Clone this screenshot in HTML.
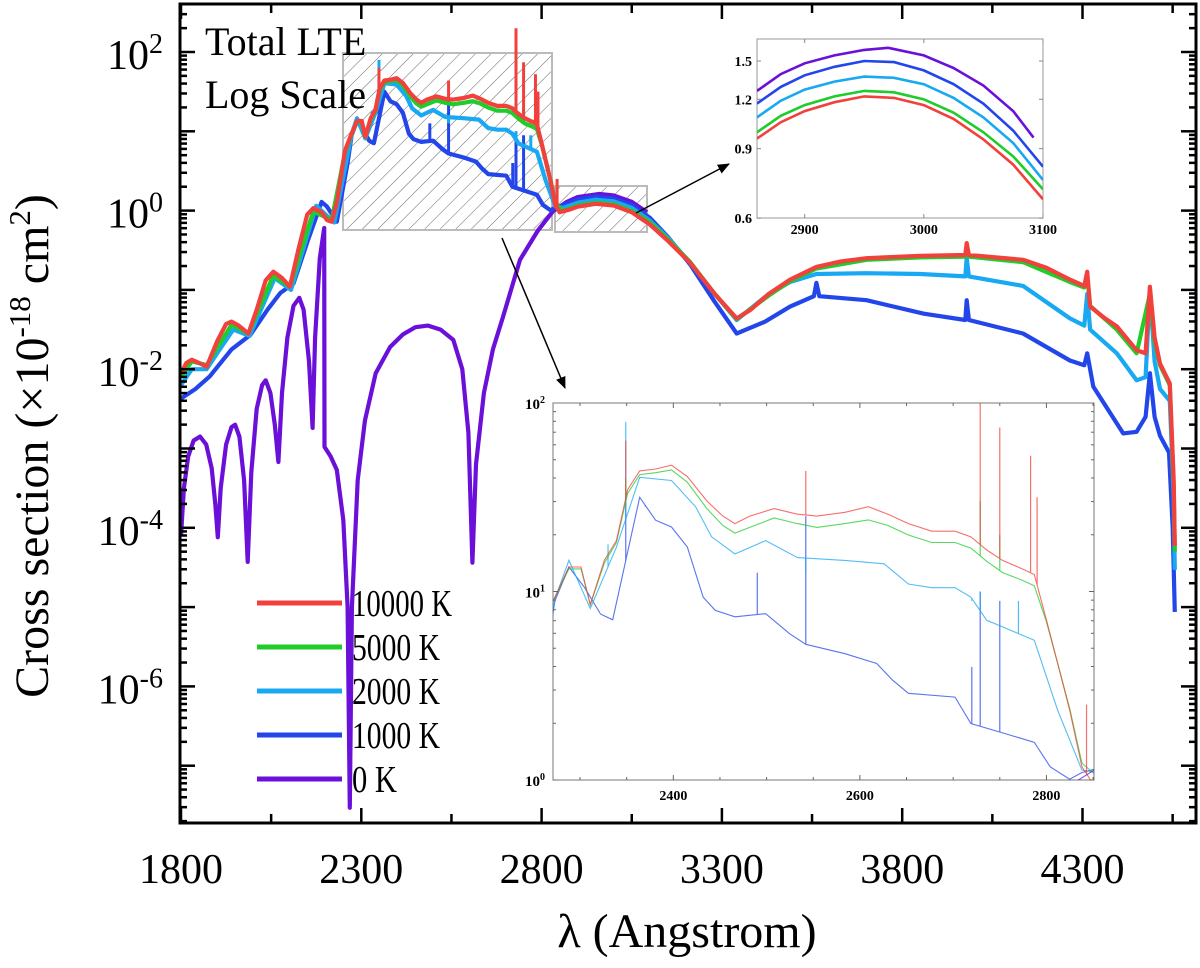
<!DOCTYPE html>
<html><head><meta charset="utf-8"><style>
html,body{margin:0;padding:0;background:#fff;width:1200px;height:968px;overflow:hidden;}
svg{display:block;font-family:"Liberation Serif",serif;}
</style></head><body>
<svg id="chart" width="1200" height="968" viewBox="0 0 1200 968" xmlns="http://www.w3.org/2000/svg">
<defs>
<clipPath id="mainClip"><rect x="180" y="4" width="1016" height="819"/></clipPath>
<clipPath id="in1Clip"><rect x="757" y="39" width="286" height="179"/></clipPath>
<clipPath id="in2Clip"><rect x="553" y="403" width="541" height="377"/></clipPath>
<pattern id="hatch" patternUnits="userSpaceOnUse" width="11" height="11" patternTransform="rotate(45)">
<line x1="0" y1="0" x2="0" y2="11" stroke="#555" stroke-width="0.9"/>
</pattern>
<marker id="arrow" markerWidth="12" markerHeight="10" refX="11" refY="5" orient="auto" markerUnits="userSpaceOnUse">
<path d="M0,0 L12,5 L0,10 z" fill="#000"/>
</marker>
</defs>
<g id="root"></g>
</svg>
<script>
// ---------- data (wavelength in Angstrom, log10 of cross section) ----------
const xTickLabels = ["1800","2300","2800","3300","3800","4300"];
const xTickValues = [1800,2300,2800,3300,3800,4300];
const yTickExps = [2,0,-2,-4,-6];
const legendLabels = ["10000 K","5000 K","2000 K","1000 K","0 K"];
const seriesColors = ["#f2403c","#1fcc2a","#19a8f2","#2346ea","#6a10d8"];

const purpleWl  = [1800,1808,1820,1835,1853,1870,1885,1895,1902,1910,1925,1940,1950,1962,1975,1985,1995,2010,2025,2035,2048,2060,2070,2080,2095,2112,2128,2140,2155,2165,2172,2185,2197,2198,2215,2232,2250,2262,2268,2274,2290,2310,2340,2380,2416,2450,2485,2520,2555,2580,2597,2608,2618,2640,2665,2693,2740,2790,2831,2870,2900,2960,3000,3050,3092];
const purpleLog = [-4.1,-3.5,-3.1,-2.9,-2.85,-2.95,-3.25,-3.7,-4.12,-3.5,-2.95,-2.73,-2.70,-2.85,-3.4,-4.43,-3.3,-2.5,-2.2,-2.14,-2.3,-2.7,-3.17,-2.3,-1.6,-1.2,-1.10,-1.25,-1.9,-2.74,-1.6,-0.6,-0.22,-2.98,-3.1,-3.27,-3.9,-5.0,-7.53,-5.0,-3.4,-2.65,-2.05,-1.72,-1.56,-1.47,-1.45,-1.5,-1.63,-2.0,-2.8,-4.44,-3.2,-2.3,-1.75,-1.34,-0.62,-0.25,-0.01,0.11,0.17,0.21,0.19,0.11,-0.02];

const redWl  = [1800,1815,1830,1850,1871,1900,1925,1940,1960,1987,2010,2035,2056,2080,2102,2125,2150,2167,2190,2205,2218,2232,2255,2273,2288,2301,2311,2326,2339,2351,2364,2381,2398,2415,2436,2453,2466,2482,2508,2533,2554,2584,2609,2630,2652,2677,2702,2719,2736,2753,2774,2787,2800,2812,2825,2838,2850,2880,2900,2950,3000,3050,3100,3150,3212,3280,3341,3380,3430,3489,3562,3630,3701,3850,3975,3979,3985,4135,4200,4265,4305,4313,4321,4360,4395,4450,4475,4487,4500,4515,4542,4553,4556];
const redLog = [-2.05,-1.92,-1.88,-1.92,-1.97,-1.65,-1.43,-1.40,-1.45,-1.55,-1.25,-0.88,-0.77,-0.85,-0.96,-0.5,-0.05,0.03,-0.02,-0.12,-0.14,0.1,0.76,0.97,1.13,1.13,0.93,1.165,1.27,1.54,1.64,1.65,1.67,1.61,1.48,1.40,1.36,1.40,1.44,1.41,1.40,1.42,1.45,1.41,1.36,1.32,1.32,1.29,1.22,1.165,1.12,1.09,0.85,0.62,0.37,0.07,-0.02,0.017,0.049,0.086,0.064,-0.022,-0.174,-0.38,-0.66,-1.05,-1.36,-1.25,-1.05,-0.87,-0.71,-0.64,-0.60,-0.57,-0.56,-0.41,-0.56,-0.62,-0.72,-0.87,-0.95,-0.77,-1.21,-1.35,-1.46,-1.76,-1.8,-0.96,-1.6,-1.93,-2.18,-3.4,-4.23];

const greenWl  = [1800,1830,1871,1940,1987,2056,2102,2167,2218,2255,2273,2288,2301,2311,2326,2339,2351,2364,2381,2398,2415,2436,2453,2466,2482,2508,2533,2554,2584,2609,2630,2652,2677,2702,2719,2736,2753,2774,2787,2800,2812,2825,2838,2860,2900,2950,3000,3050,3100,3150,3212,3280,3341,3430,3489,3562,3701,3850,3975,3979,3985,4135,4265,4305,4313,4321,4395,4450,4487,4500,4515,4542,4553,4556];
const greenLog = [-2.1,-1.9,-1.95,-1.44,-1.55,-0.82,-0.96,-0.01,-0.12,0.74,0.97,1.12,1.12,0.93,1.15,1.26,1.52,1.62,1.63,1.645,1.58,1.44,1.35,1.31,1.34,1.39,1.36,1.34,1.36,1.38,1.35,1.30,1.26,1.26,1.23,1.16,1.10,1.06,1.03,0.84,0.62,0.38,0.09,-0.005,0.065,0.10,0.079,-0.004,-0.149,-0.36,-0.65,-1.05,-1.37,-1.07,-0.89,-0.73,-0.62,-0.59,-0.58,-0.45,-0.58,-0.65,-0.90,-0.97,-0.82,-1.2,-1.5,-1.8,-1.05,-1.65,-1.95,-2.2,-3.5,-4.3];

const lblueWl  = [1800,1830,1871,1900,1945,1990,2060,2105,2175,2225,2262,2273,2288,2311,2339,2364,2398,2424,2441,2466,2499,2533,2584,2626,2652,2677,2702,2719,2736,2753,2787,2812,2838,2860,2900,2950,3000,3050,3100,3150,3212,3280,3341,3430,3489,3562,3701,3850,3975,3979,3985,4135,4265,4305,4313,4321,4395,4450,4475,4487,4500,4515,4542,4553,4556];
const lblueLog = [-2.2,-2.0,-2.0,-1.8,-1.5,-1.58,-0.85,-1.0,0.06,-0.15,0.7,0.96,1.165,0.91,1.235,1.606,1.589,1.449,1.29,1.199,1.27,1.18,1.165,1.147,1.04,1.02,1.02,0.97,0.847,0.812,0.741,0.371,0.053,0.033,0.10,0.137,0.117,0.033,-0.125,-0.34,-0.66,-1.05,-1.38,-1.05,-0.90,-0.80,-0.79,-0.80,-0.83,-0.6,-0.83,-0.95,-1.36,-1.45,-1.05,-1.5,-1.80,-2.14,-2.1,-1.0,-1.9,-2.25,-2.4,-3.6,-4.53];

const blueWl  = [1800,1840,1880,1940,1992,2040,2075,2112,2150,2190,2205,2232,2262,2273,2288,2305,2322,2335,2364,2381,2398,2415,2432,2445,2466,2499,2525,2542,2584,2618,2635,2652,2702,2719,2753,2787,2804,2825,2838,2860,2900,2950,3000,3050,3100,3150,3212,3280,3341,3420,3489,3555,3562,3570,3701,3860,3975,3979,3985,4135,4265,4305,4313,4330,4413,4450,4475,4487,4500,4515,4540,4550,4556];
const blueLog = [-2.37,-2.25,-2.09,-1.75,-1.57,-1.25,-1.04,-0.92,-0.4,0.11,0.05,-0.14,0.6,0.95,1.13,1.02,0.88,0.85,1.5,1.378,1.342,1.236,0.97,0.90,0.866,0.882,0.775,0.72,0.67,0.618,0.53,0.46,0.44,0.30,0.25,0.20,0.07,0.004,0.04,0.068,0.14,0.176,0.152,0.068,-0.09,-0.33,-0.68,-1.15,-1.55,-1.4,-1.21,-1.08,-0.91,-1.08,-1.13,-1.30,-1.38,-1.13,-1.38,-1.55,-1.89,-1.95,-1.8,-2.22,-2.81,-2.79,-2.6,-2.05,-2.6,-2.84,-3.05,-4.0,-5.06];

// narrow emission spikes (wavelength, log10 of peak)
const redSpikeWl = [2349,2542,2729,2750,2783,2790,2843];
const redSpikeLog = [1.8,1.64,2.3,1.87,1.72,1.5,0.4];
const greenSpikeWl = [2349,2729,2750];
const greenSpikeLog = [1.6,1.48,1.3];
const lblueSpikeWl = [2330,2349,2542,2720,2729,2770];
const lblueSpikeLog = [1.25,1.9,1.1,0.95,1.0,0.95];
const blueSpikeWl = [2349,2370,2490,2542,2720,2729,2750];
const blueSpikeLog = [1.5,1.45,1.1,1.4,0.6,1.0,0.95];

// inset 1 (2860-3100 A, linear values, log axis)
const in1Wl = [2860,2880,2900,2925,2950,2975,3000,3025,3050,3075,3100];
const in1Red    = [0.954,1.05,1.12,1.18,1.22,1.21,1.16,1.07,0.95,0.82,0.67];
const in1Green  = [0.99,1.09,1.16,1.22,1.26,1.25,1.20,1.11,0.99,0.86,0.71];
const in1LBlue  = [1.08,1.19,1.27,1.33,1.37,1.36,1.31,1.21,1.08,0.93,0.75];
const in1Blue   = [1.17,1.29,1.38,1.45,1.50,1.49,1.42,1.31,1.17,1.00,0.81];
const in1PurpWl = [2860,2880,2900,2925,2950,2970,3000,3025,3050,3075,3092];
const in1Purple = [1.26,1.39,1.48,1.55,1.60,1.62,1.55,1.44,1.30,1.12,0.96];
const in1XTicks = [2900,3000,3100];
const in1YTicks = [0.6,0.9,1.2,1.5];
const in2XTicks = [2400,2600,2800];
const in2YExps = [2,1,0];

// ---------- axes ----------
const L=180,R=1196,T=4,B=823;
const X=w=>181+(w-1800)*0.3606;
const Y=lg=>52+(2-lg)*79.3;
const X1=w=>757+(w-2860)*(1043-757)/240;
const Y1=v=>61+(Math.log10(1.5)-Math.log10(v))*395;
const X2=w=>553+(w-2271)*(1094-553)/(2851-2271);
const Y2=lg=>403+(2-lg)*(780-403)/2;

const NS="http://www.w3.org/2000/svg";
const root=document.getElementById('root');
function el(tag,attrs,parent){const e=document.createElementNS(NS,tag);for(const k in attrs)e.setAttribute(k,attrs[k]);(parent||root).appendChild(e);return e;}
function interp(wl,lg,w){for(let i=0;i<wl.length-1;i++){if(w>=wl[i]&&w<=wl[i+1]){const t=(w-wl[i])/(wl[i+1]-wl[i]);return lg[i]+t*(lg[i+1]-lg[i]);}}return lg[lg.length-1];}
function pathD(wl,lg,fx,fy){return wl.map((w,i)=>(i?'L':'M')+fx(w).toFixed(1)+','+fy(lg[i]).toFixed(1)).join(' ');}

// ---------- main plot ----------
const mainG=el('g',{'clip-path':'url(#mainClip)'});



const box1=el('g',{},mainG);


el('rect',{x:343,y:53,width:209,height:177,fill:'url(#hatch)',stroke:'#bbb','stroke-width':2},box1);
const box2=el('g',{},mainG);


el('rect',{x:555,y:186,width:92,height:46,fill:'url(#hatch)',stroke:'#bbb','stroke-width':2},box2);

const mainSeries=[
 ['series-0k',purpleWl,purpleLog,4,null,null],
 ['series-1000k',blueWl,blueLog,3,blueSpikeWl,blueSpikeLog],
 ['series-2000k',lblueWl,lblueLog,2,lblueSpikeWl,lblueSpikeLog],
 ['series-5000k',greenWl,greenLog,1,greenSpikeWl,greenSpikeLog],
 ['series-10000k',redWl,redLog,0,redSpikeWl,redSpikeLog]];
for(const s of mainSeries){
 const g=el('g',{},mainG);
 
 
 el('path',{d:pathD(s[1],s[2],X,Y),fill:'none',stroke:seriesColors[s[3]],'stroke-width':4.2,'stroke-linejoin':'round'},g);
 if(s[4]) s[4].forEach((w,i)=>{const sp=el('line',{x1:X(w),x2:X(w),y1:Y(interp(s[1],s[2],w)),y2:Y(s[5][i]),stroke:seriesColors[s[3]],'stroke-width':3},g);
  
  });
}

const frame=el('rect',{x:L,y:T,width:R-L,height:B-T,fill:'none',stroke:'#000','stroke-width':3});


const ticks=el('g',{stroke:'#000','stroke-width':2.5});


for(let w=1800;w<=4550;w+=250){const major=(w-1800)%500===0;const len=major?15:9;
 el('line',{x1:X(w),x2:X(w),y1:B,y2:B-len},ticks);el('line',{x1:X(w),x2:X(w),y1:T,y2:T+len},ticks);}
for(let e=-8;e<=2;e++){for(let m=1;m<10;m++){const lg=e+Math.log10(m);const y=Y(lg);if(y<T||y>B)continue;const len=m===1?15:7;
 el('line',{x1:L,x2:L+len,y1:y,y2:y},ticks);el('line',{x1:R-len,x2:R,y1:y,y2:y},ticks);}}

xTickValues.forEach((v,i)=>{const t=el('text',{x:X(v),y:883,'font-size':42,'text-anchor':'middle'});t.textContent=xTickLabels[i];
 
 });
yTickExps.forEach(e=>{const t=el('text',{x:163,y:Y(e)+17,'font-size':42,'text-anchor':'end'});
 
 
 const a=el('tspan',{},t);a.textContent='10';const b=el('tspan',{dy:-16,'font-size':28},t);b.textContent=String(e);});

const xt=el('text',{x:687,y:947,'font-size':48,'text-anchor':'middle'});xt.textContent='λ (Angstrom)';


const yt=el('text',{x:0,y:0,'font-size':48,'text-anchor':'middle',transform:'translate(48,446) rotate(-90)'});


(function(){const a=el('tspan',{},yt);a.textContent='Cross section (×10';const b=el('tspan',{dy:-18,'font-size':31},yt);b.textContent='-18';const c=el('tspan',{dy:18},yt);c.textContent=' cm';const d=el('tspan',{dy:-18,'font-size':31},yt);d.textContent='2';const f=el('tspan',{dy:18},yt);f.textContent=')';})();

const ann=el('text',{x:205,y:55,'font-size':40});ann.textContent='Total LTE';


const ann2=el('text',{x:205,y:108,'font-size':40});ann2.textContent='Log Scale';



const leg=el('g',{});


const legTextLen=[100,88,88,88,45];
legendLabels.forEach((lab,i)=>{const y=603+44*i;const g=el('g',{},leg);
 
 
 el('line',{x1:257,x2:342,y1:y,y2:y,stroke:seriesColors[i],'stroke-width':5},g);
 const t=el('text',{x:352,y:y+13,'font-size':38,textLength:legTextLen[i],lengthAdjust:'spacingAndGlyphs'},g);t.textContent=lab;});

const a1=el('line',{x1:502,y1:238,x2:565,y2:388,stroke:'#000','stroke-width':1.5,'marker-end':'url(#arrow)'});


const a2=el('line',{x1:636,y1:213,x2:729,y2:164,stroke:'#000','stroke-width':1.5,'marker-end':'url(#arrow)'});



// ---------- inset 1 ----------
const in1=el('g',{});


el('rect',{x:757,y:39,width:286,height:179,fill:'#fff',stroke:'#999','stroke-width':1},in1);
const in1c=el('g',{'clip-path':'url(#in1Clip)'},in1);
[[in1Wl,in1Red,0],[in1Wl,in1Green,1],[in1Wl,in1LBlue,2],[in1Wl,in1Blue,3],[in1PurpWl,in1Purple,4]].forEach(s=>{
 const p=el('path',{d:s[0].map((w,i)=>(i?'L':'M')+X1(w).toFixed(1)+','+Y1(s[1][i]).toFixed(1)).join(' '),fill:'none',stroke:seriesColors[s[2]],'stroke-width':2.6},in1c);
 
 });
in1XTicks.forEach(v=>{el('line',{x1:X1(v),x2:X1(v),y1:218,y2:214,stroke:'#888'},in1);el('line',{x1:X1(v),x2:X1(v),y1:39,y2:43,stroke:'#888'},in1);
 const t=el('text',{x:X1(v),y:234,'font-size':14,'font-weight':'bold','text-anchor':'middle'},in1);t.textContent=String(v);
 
 });
in1YTicks.forEach(v=>{const y=Y1(v);el('line',{x1:757,x2:761,y1:y,y2:y,stroke:'#888'},in1);el('line',{x1:1039,x2:1043,y1:y,y2:y,stroke:'#888'},in1);
 const t=el('text',{x:752,y:y+5,'font-size':14,'font-weight':'bold','text-anchor':'end'},in1);t.textContent=v.toFixed(1);
 
 });

// ---------- inset 2 ----------
const in2=el('g',{});


el('rect',{x:553,y:403,width:541,height:377,fill:'#fff',stroke:'#777','stroke-width':1},in2);
const in2c=el('g',{'clip-path':'url(#in2Clip)'},in2);
[[blueWl,blueLog,3,blueSpikeWl,blueSpikeLog],[lblueWl,lblueLog,2,lblueSpikeWl,lblueSpikeLog],[greenWl,greenLog,1,greenSpikeWl,greenSpikeLog],[redWl,redLog,0,redSpikeWl,redSpikeLog],[purpleWl,purpleLog,4,null,null]].forEach(s=>{
 const g=el('g',{opacity:0.75},in2c);
 
 
 el('path',{d:pathD(s[0],s[1],X2,Y2),fill:'none',stroke:seriesColors[s[2]],'stroke-width':1.1},g);
 if(s[3]) s[3].forEach((w,i)=>el('line',{x1:X2(w),x2:X2(w),y1:Y2(interp(s[0],s[1],w)),y2:Y2(s[4][i]),stroke:seriesColors[s[2]],'stroke-width':1.2},g));
});
for(let w=2300;w<=2850;w+=50){const major=w%200===0;
 el('line',{x1:X2(w),x2:X2(w),y1:780,y2:major?775:777,stroke:'#666'},in2);el('line',{x1:X2(w),x2:X2(w),y1:403,y2:major?408:406,stroke:'#666'},in2);}
for(let e=0;e<2;e++)for(let m=1;m<10;m++){const y=Y2(e+Math.log10(m));el('line',{x1:553,x2:m===1?558:556,y1:y,y2:y,stroke:'#666'},in2);el('line',{x1:1094,x2:m===1?1089:1091,y1:y,y2:y,stroke:'#666'},in2);}
in2XTicks.forEach(v=>{const t=el('text',{x:X2(v),y:800,'font-size':14,'font-weight':'bold','text-anchor':'middle'},in2);t.textContent=String(v);
 
 });
in2YExps.forEach(e=>{const t=el('text',{x:545,y:Y2(e)+6,'font-size':15,'font-weight':'bold','text-anchor':'end'},in2);
 
 
 const a=el('tspan',{},t);a.textContent='10';const b=el('tspan',{dy:-6,'font-size':10},t);b.textContent=String(e);});
</script>
</body></html>
